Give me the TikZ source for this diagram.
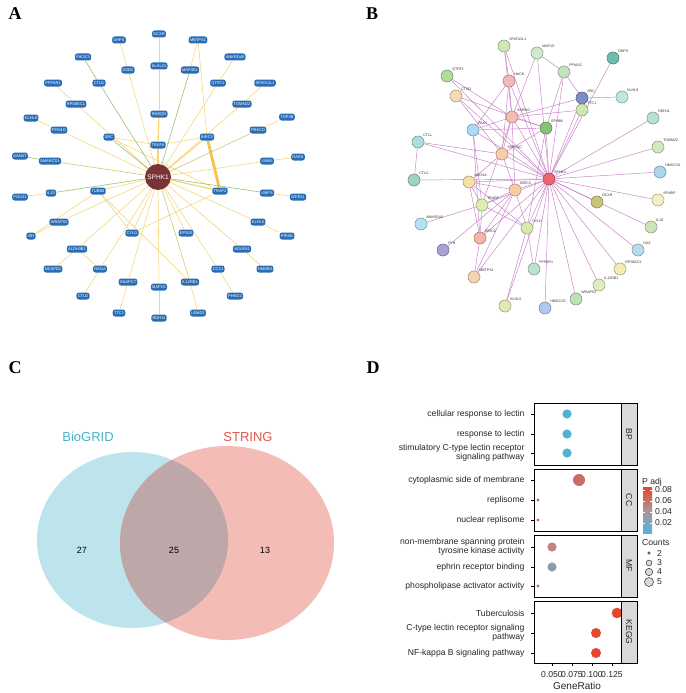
\documentclass[tikz,border=0pt]{standalone}
\usepackage{fontspec}
\setmainfont{Liberation Sans}
\newfontfamily\panelfont{Liberation Serif}
\pgfdeclarelayer{bg}
\pgfdeclarelayer{edges}
\pgfsetlayers{bg,edges,main}
\definecolor{ablue}{HTML}{2A6DB5}
\definecolor{ahub}{HTML}{7A3436}
\definecolor{ayel}{HTML}{F7D474}
\definecolor{athick}{HTML}{F4C542}
\definecolor{agrn}{HTML}{8DBF6C}
\definecolor{aolv}{HTML}{C9C766}
\definecolor{bedgec}{HTML}{C77DC9}
\definecolor{venL}{HTML}{BDE3EC}
\definecolor{venR}{HTML}{F4BCB7}
\definecolor{venI}{HTML}{BDA7A9}
\definecolor{bioc}{HTML}{49B3CC}
\definecolor{strc}{HTML}{E3584B}
\definecolor{stripg}{HTML}{D9D9D9}
\definecolor{cred}{HTML}{E8432A}
\definecolor{cgray}{HTML}{AD9496}
\definecolor{cblue}{HTML}{53B6D6}
\definecolor{dblue}{HTML}{4DB5D1}
\definecolor{dred}{HTML}{E3482F}
\newcommand{\anod}[3]{\node[anode] (#1) at (#2) {#3};}
\newcommand{\bnod}[4]{\definecolor{tmpc}{HTML}{#4}\node[bnode, fill=tmpc, draw=tmpc!70!black, label={[blab]north east:#3}] (#1) at (#2) {};}
\begin{document}
\begin{tikzpicture}[x=1pt,y=-1pt,
  anode/.style={rectangle, rounded corners=2.5pt, fill=ablue, text=white, font=\fontsize{4}{4}\selectfont, inner xsep=1.3pt, inner ysep=1.4pt, minimum height=7pt},
  ahubn/.style={circle, fill=ahub, text=white, minimum size=26pt, inner sep=0pt, font=\fontsize{6.5}{6.5}\selectfont},
  ye/.style={draw=ayel, line width=0.55pt},
  ge/.style={draw=agrn, line width=0.55pt},
  oe/.style={draw=aolv, line width=0.55pt},
  bnode/.style={circle, minimum size=12pt, inner sep=0pt, line width=0.6pt},
  blab/.style={font=\fontsize{3.6}{3.6}\selectfont, text=black!80, anchor=south west, inner sep=0.6pt},
  be/.style={draw=bedgec, line width=0.45pt},
  dtxt/.style={font=\fontsize{8.6}{9.2}\selectfont, text=black!85},
  plet/.style={font=\panelfont\bfseries\fontsize{18}{18}\selectfont}
]
\useasboundingbox (0,0) rectangle (685,693);
\begin{pgfonlayer}{bg}
\fill[white] (0,0) rectangle (685,693);
\end{pgfonlayer}

% ---------- panel letters
\node[plet] (LA) at (15,14) {A};
\node[plet] (LB) at (372,14) {B};
\node[plet] (LC) at (15,368) {C};
\node[plet] (LD) at (373,368) {D};

% ---------- Panel A nodes
\node[ahubn] (aHUB) at (158,177) {SPHK1};
\anod{aDHPS}{119,40}{DHPS}
\anod{aDCXR}{159,34}{DCXR}
\anod{aPIK}{83,57}{PIK3C3}
\anod{aDDB}{128,70}{DDB2}
\anod{aKLHL21}{159,66}{KLHL21}
\anod{aPPP}{53,83}{PPP6R1}
\anod{aCTU1}{99,83}{CTU1}
\anod{aRPS}{76,104}{RPS6KC1}
\anod{aRHE}{159,114}{RHEQN}
\anod{aKLHL9}{31,118}{KLHL9}
\anod{aPPM}{59,130}{PPM1G}
\anod{aSRC}{109,137}{SRC}
\anod{aTRAF6}{158,145}{TRAF6}
\anod{aAAN}{20,156}{AANAT}
\anod{aSMA}{50,161}{SMARCD1}
\anod{aMBT}{198,40}{MBTPS1}
\anod{aANK}{235,57}{ANKRD40}
\anod{aMAP4}{190,70}{MAP4K1}
\anod{aQTR}{218,83}{QTRT1}
\anod{aSPA}{265,83}{SPATA2L1}
\anod{aTOM}{242,104}{TOMM22}
\anod{aTOP}{287,117}{TOP3B}
\anod{aPRK}{258,130}{PRKCD}
\anod{aBIRC3}{207,137}{BIRC3}
\anod{aRARS}{298,157}{RARS}
\anod{aVWA}{267,161}{VWA5}
\anod{aPOLD}{20,197}{POLD1}
\anod{aIL10}{51,193}{IL10}
\anod{aTUBB}{98,191}{TUBB8}
\anod{aWRAP}{59,222}{WRAP53}
\anod{aISH}{31,236}{ISH}
\anod{aCYLD}{132,233}{CYLD}
\anod{aALDH}{77,249}{ALDH3B1}
\anod{aNCAP}{53,269}{NCAPD2}
\anod{aRAGA}{100,269}{RAGA}
\anod{aANAP}{128,282}{ANAPC7}
\anod{aMAP1S}{159,287}{MAP1S}
\anod{aCTU2}{83,296}{CTU2}
\anod{aTTC1}{119,313}{TTC1}
\anod{aRDH}{159,318}{RDH11}
\anod{aTRAF2}{220,191}{TRAF2}
\anod{aUMPS}{267,193}{UMPS}
\anod{aWDR}{298,197}{WDR11}
\anod{aKLHL5}{258,222}{KLHL5}
\anod{aPRIM}{287,236}{PRIM1}
\anod{aEP}{186,233}{EP300}
\anod{aNDU}{242,249}{NDUFA1}
\anod{aCCZ}{218,269}{CCZ1}
\anod{aHMG}{265,269}{HMGB3}
\anod{aIL12}{190,282}{IL12RB1}
\anod{aPHK}{235,296}{PHKG2}
\anod{aLEMD}{198,313}{LEMD3}

\begin{pgfonlayer}{edges}
\foreach \u/\v in {aDHPS/aDDB, aPPP/aRPS, aKLHL9/aPPM, aMBT/aMAP4, aANK/aQTR, aSPA/aTOM, aTOP/aPRK, aRARS/aVWA, aWDR/aUMPS, aPRIM/aKLHL5, aHMG/aNDU, aPHK/aCCZ, aLEMD/aIL12, aRDH/aMAP1S, aTTC1/aANAP, aCTU2/aRAGA, aNCAP/aALDH, aISH/aWRAP, aPOLD/aIL10, aSRC/aTRAF6, aBIRC3/aTRAF6, aSRC/aTRAF2, aMBT/aBIRC3, aTRAF2/aCYLD, aTUBB/aCYLD, aISH/aTUBB, aALDH/aRAGA, aTUBB/aIL12}
  \draw[ye] (\u) -- (\v);
\foreach \v in {aDDB, aRPS, aPPM, aQTR, aTOM, aVWA, aKLHL5, aEP, aNDU, aCCZ, aMAP1S, aANAP, aRAGA, aALDH, aCYLD, aWRAP, aTUBB}
  \draw[ye] (aHUB) -- (\v);
\draw[ye, line width=0.9pt] (aDCXR) -- (aKLHL21);
\draw[ye, line width=0.9pt] (aKLHL21) -- (aRHE);
\draw[ye, line width=1.1pt] (aRHE) -- (aTRAF6);
\draw[ye, line width=1.6pt] (aTRAF6) -- (aHUB);
\draw[ye, line width=1.0pt] (aHUB) -- (aBIRC3);
\draw[ye, line width=1.2pt] (aHUB) -- (aTRAF2);
\draw[draw=athick, line width=2.8pt] (aBIRC3) -- (aTRAF2);
\foreach \v in {aCTU1, aSRC, aMAP4, aIL10, aUMPS}
  \draw[ge] (aHUB) -- (\v);
\draw[ge] (aPIK) -- (aCTU1);
\draw[ge] (aAAN) -- (aSMA);
\foreach \v in {aPRK, aIL12, aSMA}
  \draw[oe] (aHUB) -- (\v);
\end{pgfonlayer}

% ---------- Panel B nodes
\bnod{bSPA}{504,46}{SPATA2L1}{CFE8B8}
\bnod{bMAP1S}{537,53}{MAP1S}{CFE9CF}
\bnod{bPPM}{564,72}{PPM1G}{C4E4C0}
\bnod{bDHPS}{613,58}{DHPS}{6CBFAE}
\bnod{bSRC}{582,98}{SRC}{7F8CCC}
\bnod{bTTC1}{582,110}{TTC1}{CFE8B0}
\bnod{bKLHL9}{622,97}{KLHL9}{C0E6E4}
\bnod{bRDH}{653,118}{RDH11}{B8E0D4}
\bnod{bTOM}{658,147}{TOMM22}{CFEABC}
\bnod{bHMGC1}{660,172}{HMGCS1}{ACD4EE}
\bnod{bQTR}{447,76}{QTRT1}{B0DC9C}
\bnod{bCTSO}{456,96}{CTSO}{F6DAB4}
\bnod{bHACK}{509,81}{HACK}{F5B8B8}
\bnod{bASR}{512,117}{ASRNG}{F4BCB4}
\bnod{bPAK}{473,130}{PAK1}{ACDAF4}
\bnod{bEPH}{546,128}{EPHB6}{84C474}
\bnod{bCTLL}{418,142}{CTLL}{ACDEDB}
\bnod{bSAP}{502,154}{SAPSAC}{F8CCA8}
\bnod{bCTLC}{414,180}{CTLC}{9ED4C4}
\bnod{bABC}{469,182}{ABCHA}{F2E2A8}
\bnod{bTRAF6}{482,205}{TRAF6}{DCEDB0}
\bnod{bANK}{421,224}{ANKRD40}{B4E2EE}
\bnod{bBIRC2}{480,238}{BIRC2}{F5B4A4}
\bnod{bFYN}{443,250}{FYN}{AB9FD4}
\bnod{bMBT}{474,277}{MBTPS1}{F5D4B4}
\bnod{bKLHL5}{505,306}{KLHL5}{DFEAB4}
\bnod{bHUB}{549,179}{SPHK1}{EA6670}
\bnod{bBIRC3}{515,190}{BIRC3}{F8CCA4}
\bnod{bDCXR}{597,202}{DCXR}{CBC378}
\bnod{bSPN}{658,200}{SPNBP}{F2F0C4}
\bnod{bIL10}{651,227}{IL10}{CCE6B4}
\bnod{bOAZ}{638,250}{OAZ}{BCDAEE}
\bnod{bRPS}{620,269}{RPS6KC1}{F4EAB4}
\bnod{bIL12}{599,285}{IL12RB1}{E2EDBC}
\bnod{bWRAP}{576,299}{WRAP53}{BCE2B4}
\bnod{bHMGC2}{545,308}{HMGCS2}{ACC9EE}
\bnod{bPPP}{534,269}{PPP6R1}{BCE2CC}
\bnod{bCYLD}{527,228}{CYLD}{DAE9AC}

\begin{pgfonlayer}{edges}
\foreach \v in {bSPA, bMAP1S, bPPM, bDHPS, bSRC, bTTC1, bRDH, bTOM, bHMGC1, bQTR, bCTSO, bHACK, bASR, bPAK, bEPH, bCTLL, bSAP, bCTLC, bABC, bTRAF6, bBIRC2, bMBT, bKLHL5, bBIRC3, bDCXR, bSPN, bIL10, bOAZ, bRPS, bIL12, bWRAP, bHMGC2, bPPP, bCYLD}
  \draw[be] (bHUB) -- (\v);
\foreach \u/\v in {bMAP1S/bPPM, bMAP1S/bASR, bPPM/bSRC, bPPM/bEPH, bSRC/bKLHL9, bSRC/bTTC1, bSRC/bASR, bTTC1/bASR, bSPA/bHACK, bSPA/bASR, bHACK/bASR, bHACK/bPAK, bHACK/bSAP, bQTR/bASR, bCTSO/bEPH, bCTSO/bSAP, bPAK/bEPH, bPAK/bASR, bPAK/bTRAF6, bPAK/bBIRC2, bASR/bEPH, bASR/bSAP, bASR/bTRAF6, bASR/bBIRC3, bEPH/bSAP, bEPH/bCYLD, bSAP/bABC, bSAP/bBIRC3, bABC/bBIRC3, bABC/bTRAF6, bABC/bBIRC2, bABC/bCYLD, bTRAF6/bBIRC3, bTRAF6/bANK, bTRAF6/bBIRC2, bTRAF6/bCYLD, bBIRC2/bBIRC3, bBIRC2/bMBT, bBIRC3/bMBT, bFYN/bBIRC3, bCTLL/bCTLC, bCTLL/bSAP, bCYLD/bPPP, bCYLD/bKLHL5, bBIRC3/bCYLD}
  \draw[be] (\u) -- (\v);
\end{pgfonlayer}

% ---------- Panel C (Venn)
\fill[venL] (132.5,540) ellipse [x radius=95.5pt, y radius=88pt];
\fill[venR] (227,543) ellipse [x radius=107pt, y radius=97pt];
\begin{scope}
  \clip (132.5,540) ellipse [x radius=95.5pt, y radius=88pt];
  \fill[venI] (227,543) ellipse [x radius=107pt, y radius=97pt];
\end{scope}
\node[text=bioc, font=\fontsize{13}{13}\selectfont] (tBio) at (88,437) {BioGRID};
\node[text=strc, font=\fontsize{13}{13}\selectfont] (tStr) at (248,437) {STRING};
\node[font=\fontsize{9}{9}\selectfont] (n27) at (82,550) {27};
\node[font=\fontsize{9}{9}\selectfont] (n25) at (174,550) {25};
\node[font=\fontsize{9}{9}\selectfont] (n13) at (265,550) {13};

% ---------- Panel D (dot plot)
\foreach \t/\b in {403/465, 469/531, 535/597, 601/663}
  \draw[line width=0.6pt, fill=white] (534,\t) rectangle (621,\b);
% dots
\fill[dblue] (567,414) circle (4.6pt);
\fill[dblue] (567,434) circle (4.6pt);
\fill[dblue] (567,453) circle (4.6pt);
\fill[fill={rgb,255:red,201;green,110;blue,100}] (579,480) circle (6pt);
\fill[fill={rgb,255:red,207;green,97;blue,87}] (538,500) circle (1.6pt);
\fill[fill={rgb,255:red,207;green,97;blue,87}] (538,520) circle (1.6pt);
\fill[fill={rgb,255:red,196;green,131;blue,131}] (552,547) circle (4.6pt);
\fill[fill={rgb,255:red,143;green,155;blue,168}] (552,567) circle (4.6pt);
\fill[fill={rgb,255:red,205;green,106;blue,100}] (538,586) circle (1.6pt);
\fill[dred] (617,613) circle (5.3pt);
\fill[dred] (596,633) circle (5pt);
\fill[dred] (596,653) circle (5pt);
% strips
\foreach \t/\b/\lab in {403/465/BP, 469/531/CC, 535/597/MF, 601/663/KEGG} {
  \draw[line width=0.6pt, fill=stripg] (621,\t) rectangle (637,\b);
  \node[rotate=-90, dtxt] at (629,{(\t+\b)/2}) {\lab};
}
% y labels and ticks
\foreach \y in {414,434,453,480,500,520,547,567,586,613,633,653}
  \draw[line width=0.5pt] (531,\y) -- (534,\y);
\node[dtxt, anchor=east] at (528,414) {cellular response to lectin};
\node[dtxt, anchor=east] at (528,434) {response to lectin};
\node[dtxt, anchor=east, align=right] at (528,453) {stimulatory C-type lectin receptor\\signaling pathway};
\node[dtxt, anchor=east] at (528,480) {cytoplasmic side of membrane};
\node[dtxt, anchor=east] at (528,500) {replisome};
\node[dtxt, anchor=east] at (528,520) {nuclear replisome};
\node[dtxt, anchor=east, align=right] at (528,547) {non-membrane spanning protein\\tyrosine kinase activity};
\node[dtxt, anchor=east] at (528,567) {ephrin receptor binding};
\node[dtxt, anchor=east] at (528,586) {phospholipase activator activity};
\node[dtxt, anchor=east] at (528,613) {Tuberculosis};
\node[dtxt, anchor=east, align=right] at (528,633) {C-type lectin receptor signaling\\pathway};
\node[dtxt, anchor=east] at (528,653) {NF-kappa B signaling pathway};
% x axis
\foreach \x/\lab in {552/0.050, 572/0.075, 592/0.100, 612/0.125} {
  \draw[line width=0.5pt] (\x,663) -- (\x,666);
  \node[dtxt, inner sep=0pt] at (\x,675) {\lab};
}
\node[font=\fontsize{10}{10}\selectfont, text=black!85] (xlab) at (577,686) {GeneRatio};
% legend: P adj
\node[dtxt, anchor=west, inner sep=0pt] (padj) at (642,482) {P adj};
\shade[top color=cred, bottom color=cgray] (643,487) rectangle (652,510);
\shade[top color=cgray, bottom color=cblue] (643,510) rectangle (652,533);
\foreach \y/\lab in {490/0.08, 501/0.06, 512/0.04, 523/0.02} {
  \draw[white, line width=0.4pt] (643,\y) -- (645,\y);
  \draw[white, line width=0.4pt] (650,\y) -- (652,\y);
  \node[dtxt, anchor=west, inner sep=0pt] at (655,\y) {\lab};
}
% legend: Counts
\node[dtxt, anchor=west, inner sep=0pt] (cnts) at (642,543) {Counts};
\foreach \y/\r/\lab in {553/1.2/2, 563/2.9/3, 572/3.7/4, 582/4.5/5} {
  \draw[black!80, fill=black!15, line width=0.5pt] (649,\y) circle (\r pt);
  \node[dtxt, anchor=west, inner sep=0pt] at (657,\y) {\lab};
}
\end{tikzpicture}
\end{document}
